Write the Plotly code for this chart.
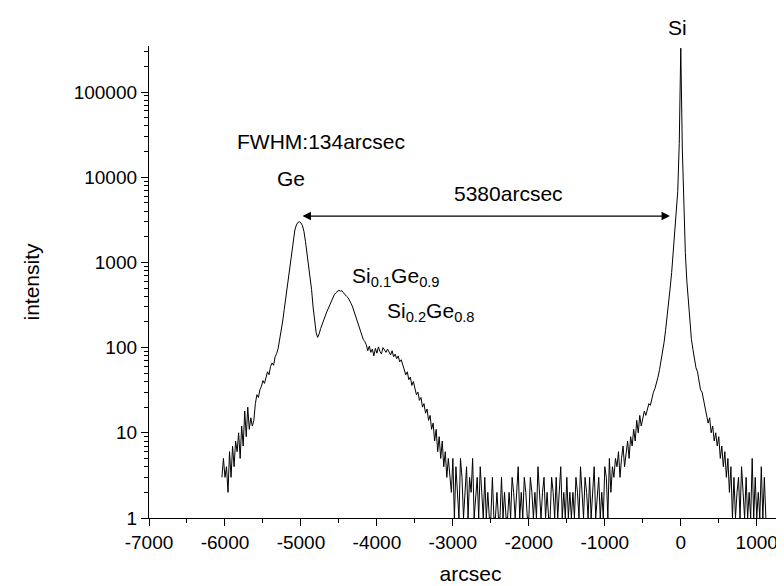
import numpy as np
import plotly.graph_objects as go

# ---- data ----
x_start = -6040          # first sample, arcsec
x_step = 20             # sampling step, arcsec

intensity = [
    # -6040 .. -5860
    3, 5, 3, 4, 2, 6, 3, 7, 4, 8,
    # -5840 .. -5660
    6, 10, 5, 12, 7, 18, 9, 20, 11, 15,
    # -5640 .. -5460
    12, 14, 22, 28, 26, 32, 35, 41, 38, 45,
    # -5440 .. -5260
    52, 48, 60, 66, 62, 78, 85, 98, 125, 150,
    # -5240 .. -5060
    205, 280, 380, 540, 760, 1020, 1400, 1900, 2400, 2750,
    # -5040 .. -4860
    2950, 3000, 2900, 2700, 2300, 1750, 1250, 950, 700, 480,
    # -4840 .. -4660
    300, 210, 150, 132, 145, 168, 185, 210, 235, 262,
    # -4640 .. -4460
    290, 325, 360, 395, 420, 440, 455, 470, 460, 465,
    # -4440 .. -4260
    440, 425, 400, 385, 360, 330, 300, 265, 235, 210,
    # -4240 .. -4060
    180, 158, 145, 125, 118, 108, 92, 104, 88, 96,
    # -4040 .. -3860
    80, 98, 86, 102, 90, 84, 100, 92, 88, 96,
    # -3840 .. -3660
    90, 82, 92, 78, 84, 74, 80, 68, 72, 62,
    # -3640 .. -3460
    55, 48, 52, 42, 45, 36, 40, 32, 28, 30,
    # -3440 .. -3260
    24, 26, 20, 22, 17, 19, 14, 16, 11, 13,
    # -3240 .. -3060
    8, 11, 6, 9, 5, 8, 4, 6, 3, 5,
    # -3040 .. -2860
    3, 2, 5, 1, 4, 2, 1, 5, 3, 1,
    # -2840 .. -2660
    2, 4, 1, 3, 2, 5, 1, 2, 3, 1,
    # -2640 .. -2460
    4, 2, 1, 3, 1, 2, 1, 1, 3, 1,
    # -2440 .. -2260
    1, 2, 1, 1, 3, 1, 2, 1, 1, 2,
    # -2240 .. -2060
    1, 3, 2, 1, 2, 4, 1, 2, 1, 3,
    # -2040 .. -1860
    2, 1, 1, 3, 2, 1, 2, 1, 4, 2,
    # -1840 .. -1660
    1, 2, 3, 1, 2, 1, 1, 3, 2, 1,
    # -1640 .. -1460
    3, 1, 2, 4, 1, 2, 1, 3, 1, 2,
    # -1440 .. -1260
    1, 2, 1, 3, 2, 1, 4, 2, 1, 3,
    # -1240 .. -1060
    2, 1, 3, 1, 2, 4, 1, 2, 3, 1,
    # -1040 .. -860
    2, 1, 4, 3, 1, 5, 2, 4, 3, 5,
    # -840 .. -660
    4, 6, 3, 5, 7, 4, 6, 8, 5, 9,
    # -640 .. -460
    7, 11, 8, 14, 10, 16, 12, 15, 18, 16,
    # -440 .. -260
    19, 22, 21, 26, 30, 33, 38, 45, 55, 68,
    # -240 .. -60
    88, 115, 160, 250, 340, 500, 760, 1250, 2300, 4200,
    # -40 .. 140
    6800, 25000, 327000, 22000, 4200, 1300, 600, 330, 200, 125,
    # 160 .. 340
    95, 75, 58, 52, 40, 32, 30, 24, 19, 17,
    # 360 .. 540
    13, 15, 10, 12, 8, 10, 7, 9, 5, 7,
    # 560 .. 740
    4, 6, 3, 5, 2, 4, 1, 3, 1, 2,
    # 760 .. 940
    3, 1, 4, 2, 1, 3, 1, 2, 1, 5,
    # 960 .. 1120
    1, 3, 1, 2, 1, 4, 1, 3, 1,
]

arcsec = x_start + x_step * np.arange(len(intensity))

x_tickvals = [-7000, -6000, -5000, -4000, -3000, -2000, -1000, 0, 1000]
x_ticktext = ["-7000", "-6000", "-5000", "-4000", "-3000", "-2000", "-1000", "0", "1000"]
y_tickvals = [1, 10, 100, 1000, 10000, 100000]
y_ticktext = ["1", "10", "100", "1000", "10000", "100000"]

FONT = "Liberation Sans, Arial, sans-serif"

fig = go.Figure()
fig.add_trace(go.Scatter(
    x=arcsec, y=intensity, mode="lines",
    line=dict(color="black", width=1),
    showlegend=False, hoverinfo="skip",
))

minor_y = [m * d for d in [1, 10, 100, 1000, 10000, 100000] for m in range(2, 10)]

fig.update_layout(
    width=784, height=586,
    margin=dict(l=141, r=0, t=38, b=76),
    paper_bgcolor="white", plot_bgcolor="white",
    font=dict(family=FONT, color="black"),
    xaxis=dict(
        range=[-7000, 1464], showgrid=False, zeroline=False,
        showline=True, linecolor="black", linewidth=1.3,
        ticks="outside", ticklen=7, tickwidth=1.3, tickcolor="black",
        tickvals=x_tickvals, ticktext=x_ticktext,
        tickfont=dict(size=19, family=FONT),
        minor=dict(dtick=500, tick0=-7000, ticks="outside", ticklen=4,
                   tickwidth=1.3, tickcolor="black", showgrid=False),
        title=dict(text="arcsec", font=dict(size=21, family=FONT), standoff=14),
    ),
    yaxis=dict(
        type="log", range=[0, 5.54], showgrid=False, zeroline=False,
        showline=True, linecolor="black", linewidth=1.3,
        ticks="outside", ticklen=7, tickwidth=1.3, tickcolor="black",
        tickvals=y_tickvals, ticktext=y_ticktext,
        tickfont=dict(size=19, family=FONT),
        minor=dict(tickvals=minor_y, ticks="outside", ticklen=4,
                   tickwidth=1.1, tickcolor="black", showgrid=False),
        title=dict(text="intensity", font=dict(size=21, family=FONT), standoff=28),
    ),
)

ann_font = dict(size=21, family=FONT, color="black")
fig.add_annotation(x=-4736, y=4.42, text="FWHM:134arcsec", showarrow=False,
                   font=ann_font, xref="x", yref="y")
fig.add_annotation(x=-5131, y=3.986, text="Ge", showarrow=False,
                   font=ann_font, xref="x", yref="y")
fig.add_annotation(x=-2274, y=3.805, text="5380arcsec", showarrow=False,
                   font=ann_font, xref="x", yref="y")
fig.add_annotation(x=-37, y=1.04, yanchor="middle", text="Si", showarrow=False,
                   font=ann_font, xref="x", yref="paper")
fig.add_annotation(x=-4354, y=2.83, xanchor="left",
                   text="Si<sub>0.1</sub>Ge<sub>0.9</sub>", showarrow=False,
                   font=ann_font, xref="x", yref="y")
fig.add_annotation(x=-3894, y=2.42, xanchor="left",
                   text="Si<sub>0.2</sub>Ge<sub>0.8</sub>", showarrow=False,
                   font=ann_font, xref="x", yref="y")
# double-headed arrow between the Ge and Si peaks
fig.add_annotation(x=-142, y=3.544, ax=-4999, ay=3.544,
                   xref="x", yref="y", axref="x", ayref="y",
                   text="", showarrow=True, arrowside="end+start",
                   arrowhead=2, arrowsize=1.4, arrowwidth=1.2,
                   arrowcolor="black", standoff=0, startstandoff=0)

fig.write_html("out.html")
